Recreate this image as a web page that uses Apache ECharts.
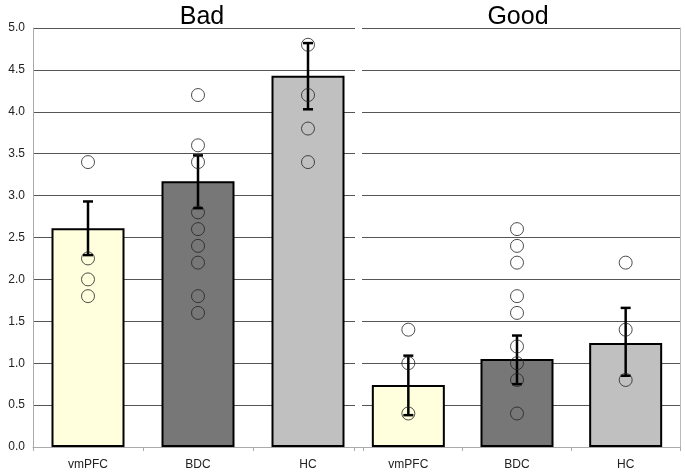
<!DOCTYPE html>
<html>
<head>
<meta charset="utf-8">
<script src="https://cdn.jsdelivr.net/npm/echarts@6/dist/echarts.min.js"></script>
<style>html,body{margin:0;padding:0;background:#fff;}#c{width:685px;height:474px;}</style>
</head>
<body>
<div id="c"></div>
<script>
const categories = ['vmPFC', 'BDC', 'HC'];
const panelTitles = ['Bad', 'Good'];
const yTicks = ['0.0','0.5','1.0','1.5','2.0','2.5','3.0','3.5','4.0','4.5','5.0'];
const barColors = ['#FFFFDD', '#777777', '#C0C0C0'];

const badMeans = [2.61, 3.17, 4.43];
const badLow = [2.29, 2.85, 4.03];
const badHigh = [2.93, 3.48, 4.82];
const badVmPFC = [3.4, 2.25, 2.0, 1.8];
const badBDC = [4.2, 3.6, 3.4, 2.8, 2.6, 2.4, 2.2, 1.8, 1.6];
const badHC = [4.8, 4.2, 3.8, 3.4];

const goodMeans = [0.74, 1.05, 1.24];
const goodLow = [0.38, 0.75, 0.85];
const goodHigh = [1.09, 1.33, 1.66];
const goodVmPFC = [1.4, 1.0, 0.4];
const goodBDC = [2.6, 2.4, 2.2, 1.8, 1.6, 1.2, 1.0, 0.8, 0.4];
const goodHC = [2.2, 1.4, 0.8];

const font = 'Liberation Sans, Arial, sans-serif';
const TOP = 28, BOTTOM = 27;

function pts(groups) {
  const out = [];
  groups.forEach((g, i) => g.forEach(v => out.push([i, v])));
  return out;
}
function errData(low, high) {
  return low.map((l, i) => [i, l, high[i]]);
}
function renderErr(params, api) {
  const x = api.value(0);
  const lo = api.coord([x, api.value(1)]);
  const hi = api.coord([x, api.value(2)]);
  const w = 5;
  const st = { stroke: '#000', lineWidth: 2.5 };
  return {
    type: 'group',
    children: [
      { type: 'line', shape: { x1: hi[0], y1: hi[1], x2: lo[0], y2: lo[1] }, style: st },
      { type: 'line', shape: { x1: hi[0] - w, y1: hi[1], x2: hi[0] + w, y2: hi[1] }, style: st },
      { type: 'line', shape: { x1: lo[0] - w, y1: lo[1], x2: lo[0] + w, y2: lo[1] }, style: st }
    ]
  };
}

const yVal = (idx, extra) => Object.assign({
  type: 'value', gridIndex: idx, min: 0, max: 5, interval: 0.5,
  axisLine: { show: false }, axisTick: { show: false }, axisLabel: { show: false },
  splitLine: { show: false }
}, extra || {});

const xCat = (idx) => ({
  type: 'category', gridIndex: idx, data: categories,
  axisLine: { show: true, lineStyle: { color: '#aaaaaa', width: 1 } },
  axisTick: { show: true, length: 4, lineStyle: { color: '#aaaaaa' } },
  axisLabel: { color: '#222', fontSize: 12, fontFamily: font, margin: 12 },
  splitLine: { show: false }
});

const xHidden = (idx) => ({ type: 'value', gridIndex: idx, min: 0, max: 1, show: false });

const chart = echarts.init(document.getElementById('c'), null, { renderer: 'canvas' });
chart.setOption({
  animation: false,
  backgroundColor: '#fff',
  title: [
    { text: panelTitles[0], left: 197, top: 0, textAlign: 'center',
      textStyle: { fontSize: 25, fontWeight: 'normal', color: '#000', fontFamily: font } },
    { text: panelTitles[1], left: 513, top: 0, textAlign: 'center',
      textStyle: { fontSize: 25, fontWeight: 'normal', color: '#000', fontFamily: font } }
  ],
  grid: [
    { left: 33, width: 330, top: TOP, bottom: BOTTOM },
    { left: 354, right: 5, top: TOP, bottom: BOTTOM },
    { left: 33, width: 322, top: TOP, bottom: BOTTOM },
    { left: 362, right: 5, top: TOP, bottom: BOTTOM }
  ],
  xAxis: [xCat(0), xCat(1), xHidden(2), xHidden(3)],
  yAxis: [
    yVal(0), yVal(1),
    yVal(2, {
      axisLine: { show: true, lineStyle: { color: '#aaaaaa' } },
      axisLabel: { show: true, color: '#222', fontSize: 12, fontFamily: font, margin: 8,
        formatter: (v) => yTicks[Math.round(v * 2)] },
      splitLine: { show: true, lineStyle: { color: '#555', width: 1 } }
    }),
    yVal(3, {
      splitLine: { show: true, lineStyle: { color: '#555', width: 1 } }
    }),
    yVal(3, {
      position: 'right',
      axisLine: { show: true, lineStyle: { color: '#bbbbbb' } }
    })
  ],
  series: [
    { type: 'bar', xAxisIndex: 0, yAxisIndex: 0, barWidth: 73, z: 2,
      data: badMeans.map((v, i) => ({ value: v, itemStyle: { color: barColors[i] } })),
      itemStyle: { borderColor: '#000', borderWidth: 2 } },
    { type: 'bar', xAxisIndex: 1, yAxisIndex: 1, barWidth: 73, z: 2,
      data: goodMeans.map((v, i) => ({ value: v, itemStyle: { color: barColors[i] } })),
      itemStyle: { borderColor: '#000', borderWidth: 2 } },
    { type: 'custom', xAxisIndex: 0, yAxisIndex: 0, z: 3, renderItem: renderErr,
      data: errData(badLow, badHigh) },
    { type: 'custom', xAxisIndex: 1, yAxisIndex: 1, z: 3, renderItem: renderErr,
      data: errData(goodLow, goodHigh) },
    { type: 'scatter', xAxisIndex: 0, yAxisIndex: 0, z: 4, symbol: 'circle', symbolSize: 13,
      itemStyle: { color: 'rgba(0,0,0,0)', borderColor: '#222', borderWidth: 1 },
      data: pts([badVmPFC, badBDC, badHC]) },
    { type: 'scatter', xAxisIndex: 1, yAxisIndex: 1, z: 4, symbol: 'circle', symbolSize: 13,
      itemStyle: { color: 'rgba(0,0,0,0)', borderColor: '#222', borderWidth: 1 },
      data: pts([goodVmPFC, goodBDC, goodHC]) }
  ]
});
</script>
</body>
</html>
